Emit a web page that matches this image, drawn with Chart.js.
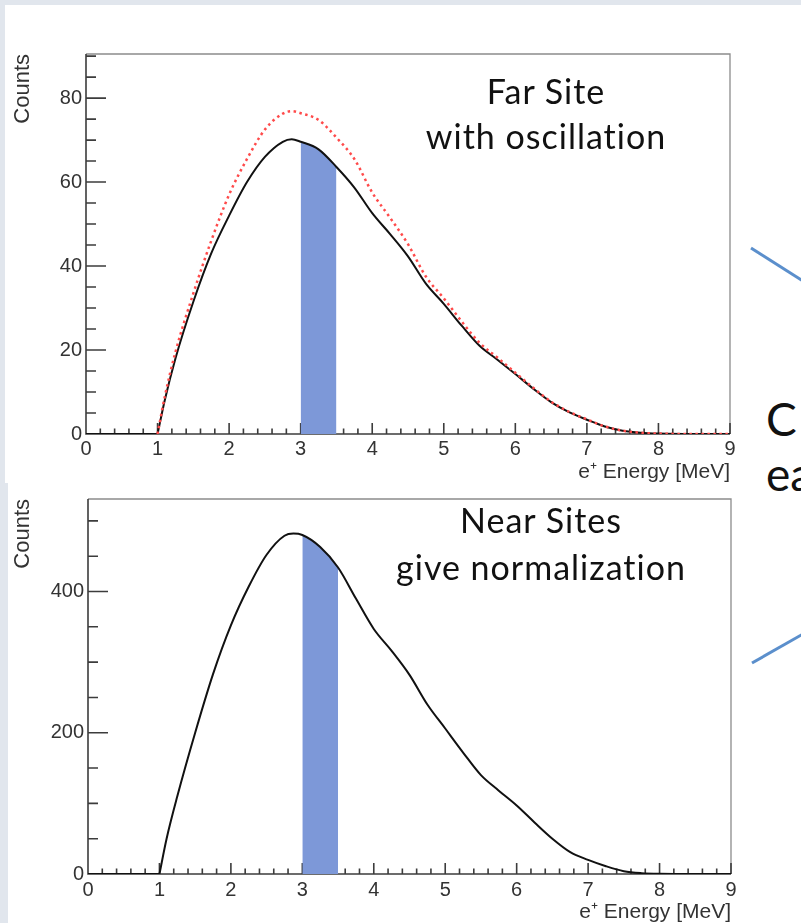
<!DOCTYPE html>
<html>
<head>
<meta charset="utf-8">
<title>Far / Near positron spectra</title>
<script src="https://cdn.jsdelivr.net/npm/chart.js@4.4.1/dist/chart.umd.min.js"></script>
<style>
  html, body { margin: 0; padding: 0; }
  body { background: #e1e6ed; }
  #slide { position: relative; width: 801px; height: 923px; overflow: hidden; }
  .panel { position: absolute; background: #fff; }
  #panelFar { left: 5px; top: 5px; width: 796px; height: 478px; }
  #panelNear { left: 8px; top: 483px; width: 793px; height: 440px; }
  canvas { position: absolute; left: 0; }
  #farChart { top: 0; }
  #nearChart { top: 483px; }
  .note {
    position: absolute; width: 360px; text-align: center; letter-spacing: 1px;
    font-family: Lato, "Open Sans", sans-serif; font-size: 34px; color: #111;
  }
  #noteFar { left: 366px; top: 68px; line-height: 45px; }
  #noteNear { left: 361px; top: 496px; line-height: 47px; }
  #sideText {
    position: absolute; left: 766px; top: 391px; line-height: 55px;
    font-family: Lato, "Open Sans", sans-serif; font-size: 46px; color: #111; white-space: nowrap;
  }
  #arrows { position: absolute; left: 0; top: 0; }
</style>
</head>
<body>
<div id="slide">
  <div class="panel" id="panelFar"></div>
  <div class="panel" id="panelNear"></div>
  <canvas id="farChart" width="745" height="483"></canvas>
  <canvas id="nearChart" width="745" height="440"></canvas>
  <div class="note" id="noteFar">Far Site<br>with oscillation</div>
  <div class="note" id="noteNear">Near Sites<br>give normalization</div>
  <div id="sideText">C<br>ea</div>
  <svg id="arrows" width="801" height="923">
    <line x1="751" y1="248" x2="803" y2="281" stroke="#5b8fcc" stroke-width="3"/>
    <line x1="752" y1="663" x2="803" y2="634" stroke="#5b8fcc" stroke-width="3"/>
  </svg>
</div>

<script>
// positron energy bins (MeV), spectrum starts at the 1 MeV threshold
const energy = [1.0, 1.1, 1.25, 1.5, 1.75, 2.0, 2.25, 2.5, 2.75, 2.875, 3.0, 3.25, 3.5, 3.75,
                4.0, 4.25, 4.5, 4.75, 5.0, 5.25, 5.5, 5.75, 6.0, 6.25, 6.5, 6.75, 7.0, 7.25,
                7.5, 7.75, 8.0, 8.5, 9.0];
// below threshold: no counts
const belowEnergy = [0, 1.0];
const belowCounts = [0, 0];

// far site, with oscillation (solid) and without (dotted)
const farOsc = [0, 8, 18, 31.5, 43, 52, 60, 66, 69.6, 70.2, 69.6, 67.8, 63.6, 58.7,
                52.6, 47.6, 42.3, 35.8, 31, 25.8, 21, 17.7, 14.3, 10.8, 7.6, 5.2, 3.4, 1.8,
                0.8, 0.3, 0.1, 0, 0];
const farNoOsc = [0, 8.8, 19.5, 33.5, 46, 57, 65.5, 72.5, 76.3, 76.9, 76.4, 74.8, 70.6, 65.5,
                  57.5, 51.5, 45.2, 37.5, 32.3, 26.8, 21.7, 18.2, 14.6, 11, 7.7, 5.3, 3.5, 1.8,
                  0.8, 0.3, 0.1, 0, 0];
// near sites
const nearCounts = [0, 50, 110, 200, 283, 352, 407, 452, 479, 482, 480, 463, 434, 390,
                    347, 316, 282, 240, 206, 172, 140, 118, 97, 73, 50, 31, 20, 11,
                    4, 1.2, 0.3, 0, 0];

// highlighted energy window
const bandLow = 3.0;
const bandHigh = 3.5;

const xTicks = [0, 1, 2, 3, 4, 5, 6, 7, 8, 9];
const yTicksFar = [0, 20, 40, 60, 80];
const yTicksNear = [0, 200, 400];

const toPoints = (xs, ys) => xs.map((x, i) => ({ x: x, y: ys[i] }));
const bandPoints = ys => toPoints(energy, ys).filter(p => p.x >= bandLow && p.x <= bandHigh);

// ROOT style frame: ticks point into the plot
const rootAxes = {
  id: 'rootAxes',
  beforeDatasetsDraw(chart, args, opts) {
    const { ctx, chartArea: a, scales: { x, y } } = chart;
    ctx.save();
    ctx.strokeStyle = '#8c8c8c';
    ctx.lineWidth = 1.3;
    ctx.beginPath();
    ctx.moveTo(a.left, a.top);
    ctx.lineTo(a.right, a.top);
    ctx.lineTo(a.right, a.bottom);
    ctx.stroke();

    ctx.strokeStyle = '#3c3c3c';
    ctx.lineWidth = 1.6;
    ctx.beginPath();
    ctx.moveTo(a.left, a.top);
    ctx.lineTo(a.left, a.bottom);
    ctx.lineTo(a.right, a.bottom);
    for (let i = 0; i * opts.xMinor <= x.max + 1e-6; i++) {
      const px = x.getPixelForValue(i * opts.xMinor);
      const len = i % opts.xPer === 0 ? 11 : 5.5;
      ctx.moveTo(px, a.bottom);
      ctx.lineTo(px, a.bottom - len);
    }
    for (let i = 0; i * opts.yMinor <= y.max; i++) {
      const py = y.getPixelForValue(i * opts.yMinor);
      const len = i % opts.yPer === 0 ? 20 : 10;
      ctx.moveTo(a.left, py);
      ctx.lineTo(a.left + len, py);
    }
    ctx.stroke();
    ctx.restore();
  }
};

const FAMILY = "'Liberation Sans', Arial, sans-serif";

function makeChart(id, datasets, yMax, yTicks, yMinor, layout) {
  return new Chart(document.getElementById(id), {
    type: 'line',
    data: { datasets: datasets },
    plugins: [rootAxes],
    options: {
      responsive: false,
      animation: false,
      devicePixelRatio: 1,
      layout: { padding: { left: 0, top: layout.top, right: layout.right, bottom: 0 } },
      plugins: {
        legend: { display: false },
        tooltip: { enabled: false },
        rootAxes: { xMinor: 0.2, xPer: 5, yMinor: yMinor, yPer: yTicks[1] / yMinor }
      },
      elements: { point: { radius: 0 } },
      scales: {
        x: {
          type: 'linear',
          min: 0,
          max: 9,
          grid: { display: false, drawTicks: false },
          border: { display: false },
          afterBuildTicks: s => { s.ticks = xTicks.map(v => ({ value: v })); },
          afterFit: s => { s.height = layout.xHeight; },
          ticks: { padding: layout.xLabelPad, color: '#333', maxRotation: 0, autoSkip: false,
                   font: { family: FAMILY, size: 20, lineHeight: 1.2 } },
          title: {
            display: true, text: 'e\u207A Energy [MeV]', align: 'end', color: '#333',
            font: { family: FAMILY, size: 21, lineHeight: 1 },
            padding: { top: layout.titlePad, bottom: 0 }
          }
        },
        y: {
          type: 'linear',
          min: 0,
          max: yMax,
          grid: { display: false, drawTicks: false },
          border: { display: false },
          afterBuildTicks: s => { s.ticks = yTicks.map(v => ({ value: v })); },
          afterFit: s => { s.width = layout.yWidth; },
          ticks: { padding: 4, color: '#333', font: { family: FAMILY, size: 20, lineHeight: 1.2 } },
          title: {
            display: true, text: 'Counts', align: 'end', color: '#333',
            font: { family: FAMILY, size: 22, lineHeight: 1 },
            padding: { top: 12, bottom: 0 }
          }
        }
      }
    }
  });
}

const curveStyle = { cubicInterpolationMode: 'monotone', pointRadius: 0, fill: false };

makeChart('farChart', [
  Object.assign({ data: toPoints(energy, farNoOsc), borderColor: '#ff4a4a', borderWidth: 2.5,
                  borderDash: [2.5, 3.5] }, curveStyle),
  Object.assign({ data: toPoints(energy, farOsc), borderColor: '#111', borderWidth: 2 }, curveStyle),
  Object.assign({ data: toPoints(belowEnergy, belowCounts), borderColor: '#111', borderWidth: 2 }, curveStyle),
  { data: bandPoints(farOsc), borderWidth: 0, pointRadius: 0, fill: 'origin',
    backgroundColor: '#7d98d8', cubicInterpolationMode: 'monotone' }
], 90.5, yTicksFar, 5, { top: 54, right: 15, xHeight: 49, yWidth: 86, titlePad: 0, xLabelPad: 3 });

makeChart('nearChart', [
  Object.assign({ data: toPoints(energy, nearCounts), borderColor: '#111', borderWidth: 2 }, curveStyle),
  Object.assign({ data: toPoints(belowEnergy, belowCounts), borderColor: '#111', borderWidth: 2 }, curveStyle),
  { data: bandPoints(nearCounts), borderWidth: 0, pointRadius: 0, fill: 'origin',
    backgroundColor: '#7d98d8', cubicInterpolationMode: 'monotone' }
], 531, yTicksNear, 50, { top: 14, right: 14, xHeight: 49, yWidth: 88, titlePad: 1, xLabelPad: 4 });
</script>
</body>
</html>
